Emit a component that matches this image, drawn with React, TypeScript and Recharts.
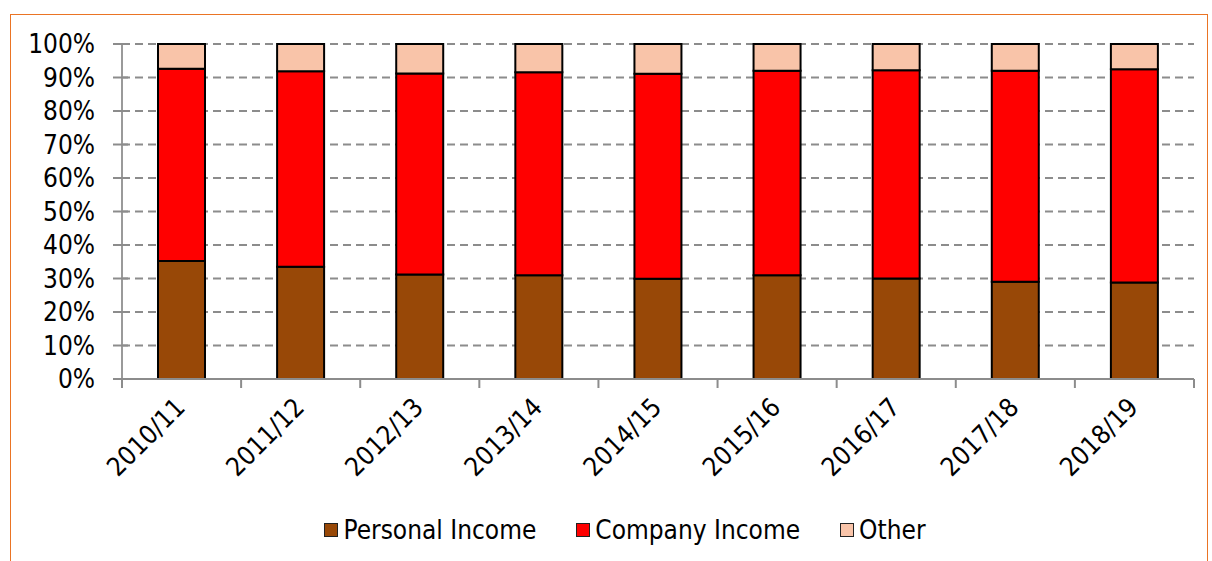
import React from 'react';
import {
  BarChart,
  Bar,
  XAxis,
  YAxis,
  CartesianGrid,
  Legend
} from 'recharts';

const years = ['2010/11', '2011/12', '2012/13', '2013/14', '2014/15', '2015/16', '2016/17', '2017/18', '2018/19'];
const personalIncome = [35.2, 33.5, 31.2, 31.0, 29.9, 31.0, 30.0, 29.0, 28.8];
const companyIncome = [57.4, 58.4, 60.0, 60.6, 61.2, 61.0, 62.2, 63.0, 63.7];
const other = [7.4, 8.1, 8.8, 8.4, 8.9, 8.0, 7.8, 8.0, 7.5];
const yTicks = [0, 10, 20, 30, 40, 50, 60, 70, 80, 90, 100];

const data = years.map((year, i) => ({
  year,
  personal: personalIncome[i],
  company: companyIncome[i],
  other: other[i]
}));

const FONT = "'DejaVu Sans Condensed', 'DejaVu Sans', sans-serif";
const W = 1212;
const H = 561;
const PLOT_LEFT = 122;
const PLOT_RIGHT = 1194;
const BAND = (PLOT_RIGHT - PLOT_LEFT) / years.length;

const SERIES = [
  { key: 'personal', name: 'Personal Income', color: '#984807' },
  { key: 'company', name: 'Company Income', color: '#FF0000' },
  { key: 'other', name: 'Other', color: '#F9C4A9' }
];

const XTick = (props: any) => {
  const { x, y, payload, index } = props;
  const left = x - BAND / 2;
  const ax = x + 5;
  const ay = y + 30;
  return (
    <g>
      <line x1={left} y1={y} x2={left} y2={y + 9} stroke="#8c8c8c" strokeWidth={2} />
      {index === years.length - 1 && (
        <line x1={x + BAND / 2} y1={y} x2={x + BAND / 2} y2={y + 9} stroke="#8c8c8c" strokeWidth={2} />
      )}
      <text
        x={ax}
        y={ay}
        transform={`rotate(-45, ${ax}, ${ay})`}
        textAnchor="end"
        fontFamily={FONT}
        fontSize={26}
        fill="#000"
      >
        {payload.value}
      </text>
    </g>
  );
};

const YTick = (props: any) => {
  const { x, y, payload } = props;
  return (
    <g>
      <line x1={x - 9} y1={y} x2={x + 6} y2={y} stroke="#8c8c8c" strokeWidth={2} />
      <text x={x - 27} y={y} dy={9} textAnchor="end" fontFamily={FONT} fontSize={26} fill="#000">
        {`${payload.value}%`}
      </text>
    </g>
  );
};

const LegendContent = () => (
  <div
    style={{
      display: 'flex',
      justifyContent: 'center',
      alignItems: 'center',
      height: 34,
      paddingLeft: 56,
      fontFamily: FONT,
      fontSize: 26,
      color: '#000'
    }}
  >
    {SERIES.map((s) => (
      <div key={s.key} style={{ display: 'flex', alignItems: 'center', margin: '0 20px' }}>
        <span
          style={{
            display: 'inline-block',
            width: 12,
            height: 12,
            background: s.color,
            border: '1.5px solid #222',
            marginRight: 5
          }}
        />
        <span>{s.name}</span>
      </div>
    ))}
  </div>
);

export default function App() {
  return (
    <div style={{ position: 'absolute', left: 0, top: 0, width: W, height: H, background: '#fff', overflow: 'hidden' }}>
      <div
        style={{
          position: 'absolute',
          left: 10,
          top: 14,
          width: 1198,
          height: 600,
          border: '1.5px solid #EA7424',
          boxSizing: 'border-box'
        }}
      />
      <BarChart
        width={W}
        height={H}
        data={data}
        margin={{ top: 44, right: W - PLOT_RIGHT, left: 0, bottom: 14 }}
        barSize={47}
      >
        <CartesianGrid vertical={false} stroke="#8c8c8c" strokeWidth={2} strokeDasharray="8 5" />
        <XAxis
          dataKey="year"
          height={134}
          axisLine={{ stroke: '#8c8c8c', strokeWidth: 2 }}
          tickLine={false}
          tickSize={0}
          tickMargin={0}
          interval={0}
          tick={<XTick />}
        />
        <YAxis
          width={PLOT_LEFT}
          domain={[0, 100]}
          ticks={yTicks}
          interval={0}
          axisLine={{ stroke: '#9a9a9a', strokeWidth: 2 }}
          tickLine={false}
          tickSize={0}
          tickMargin={0}
          tick={<YTick />}
        />
        <Legend verticalAlign="bottom" height={34} content={<LegendContent />} />
        {SERIES.map((s) => (
          <Bar
            key={s.key}
            dataKey={s.key}
            name={s.name}
            stackId="a"
            fill={s.color}
            stroke="#000"
            strokeWidth={2}
            isAnimationActive={false}
          />
        ))}
      </BarChart>
    </div>
  );
}
